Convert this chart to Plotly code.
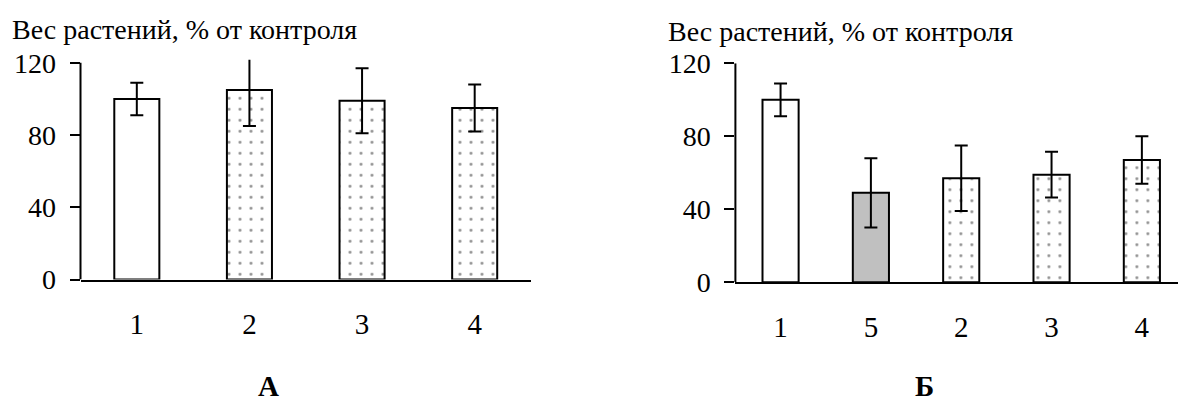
import plotly.graph_objects as go

# Panel А: plant weight, % of control
cats_a = ["1", "2", "3", "4"]
vals_a = [100, 105, 99, 95]
errs_a = [9, 20, 18, 13]

# Panel Б
cats_b = ["1", "5", "2", "3", "4"]
vals_b = [100, 49, 57, 59, 67]
errs_b = [9, 19, 18, 12.5, 13]

y_ticks = [0, 40, 80, 120]
y_title = "Вес растений, % от контроля"
panel_labels = ["А", "Б"]

SERIF = "Liberation Serif"
W, H = 1178, 402


def bar_style(cat):
    """Control = plain white, 5 = solid grey, others = dotted."""
    if cat == "1":
        return dict(color="white", pattern=dict(shape=""))
    if cat == "5":
        return dict(color="#c0c0c0", pattern=dict(shape=""))
    return dict(color="white",
                pattern=dict(shape=".", fgcolor="#8a8a8a", bgcolor="white",
                             size=11, solidity=0.05, fillmode="replace"))


fig = go.Figure()

for cats, vals, errs, xa, ya in [(cats_a, vals_a, errs_a, "x", "y"),
                                 (cats_b, vals_b, errs_b, "x2", "y2")]:
    for c, v, e in zip(cats, vals, errs):
        st = bar_style(c)
        fig.add_trace(go.Bar(
            x=[c], y=[v], xaxis=xa, yaxis=ya, width=0.4,
            marker=dict(color=st["color"], pattern=st["pattern"],
                        line=dict(color="black", width=2)),
            error_y=dict(type="data", array=[e], visible=True,
                         color="black", thickness=2, width=6.5),
            showlegend=False, hoverinfo="skip",
        ))

common_x = dict(type="category", showline=True, linecolor="black", linewidth=2,
                ticks="", showgrid=False, zeroline=False,
                tickfont=dict(family=SERIF, size=29, color="black"),
                ticklabelstandoff=18, fixedrange=True, automargin=False)
common_y = dict(showline=False, ticks="outside", ticklen=10, tickwidth=2,
                tickcolor="black", tickvals=y_ticks, showgrid=False,
                zeroline=False,
                tickfont=dict(family=SERIF, size=28, color="black"),
                ticklabelstandoff=8, fixedrange=True, automargin=False)

fig.update_layout(
    width=W, height=H,
    margin=dict(l=0, r=0, t=0, b=0, autoexpand=False),
    paper_bgcolor="white", plot_bgcolor="white",
    bargap=0.6,
    xaxis=dict(common_x, domain=[80.5 / W, 531 / W], range=[-0.5, 3.5],
               anchor="y", categoryorder="array", categoryarray=cats_a),
    yaxis=dict(common_y, domain=[1 - 279.5 / H, 1 - 59.8 / H],
               range=[0, 121.7], anchor="x"),
    xaxis2=dict(common_x, domain=[735.4 / W, 1.0], range=[-0.5, 4.4],
                anchor="y2", categoryorder="array", categoryarray=cats_b),
    yaxis2=dict(common_y, domain=[1 - 282.3 / H, 1 - 63.3 / H],
                range=[0, 120], anchor="x2"),
)

# vertical axis lines drawn from 0 up to 120
for xr, yr in [("x domain", "y"), ("x2 domain", "y2")]:
    fig.add_shape(type="line", xref=xr, yref=yr, x0=0, x1=0, y0=0, y1=120,
                  line=dict(color="black", width=2), layer="above")

# axis captions above each panel
fig.add_annotation(text=y_title, xref="paper", yref="paper",
                   x=11 / W, y=1 - 13 / H, xanchor="left", yanchor="top",
                   showarrow=False, borderpad=0,
                   font=dict(family=SERIF, size=28, color="black"))
fig.add_annotation(text=y_title, xref="paper", yref="paper",
                   x=667 / W, y=1 - 15 / H, xanchor="left", yanchor="top",
                   showarrow=False, borderpad=0,
                   font=dict(family=SERIF, size=28, color="black"))

# panel letters
for lbl, xc in zip(panel_labels, [268, 924]):
    fig.add_annotation(text="<b>%s</b>" % lbl, xref="paper", yref="paper",
                       x=xc / W, y=1 - 368 / H, xanchor="center", yanchor="top",
                       showarrow=False, font=dict(family=SERIF, size=29, color="black"))

fig.write_html("out.html")
